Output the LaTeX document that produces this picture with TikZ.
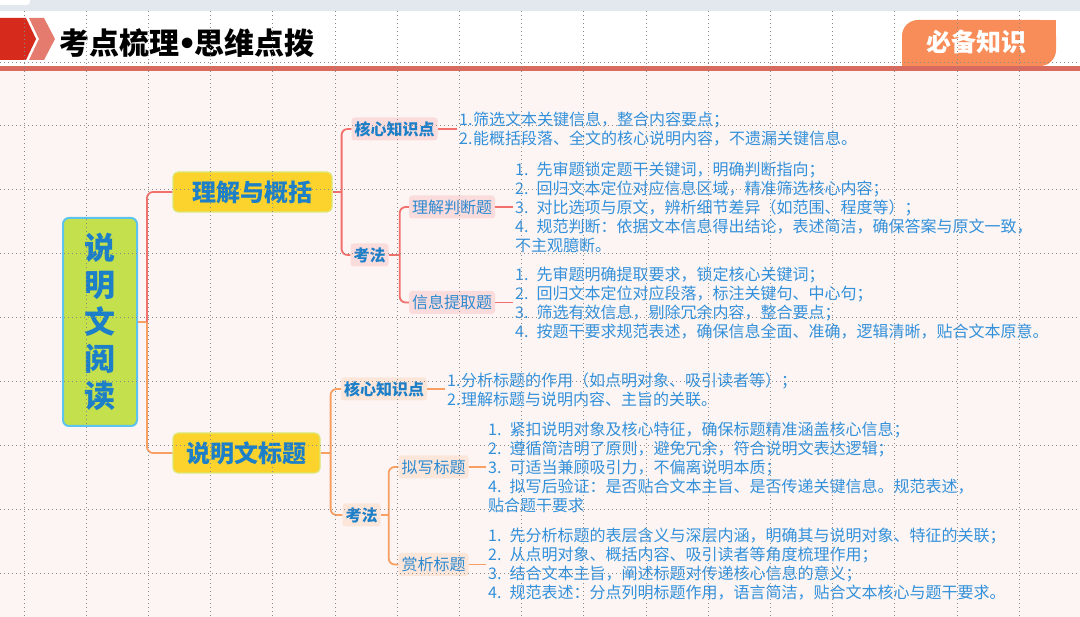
\documentclass[tikz,border=0pt]{standalone}
\usepackage{fontspec}
\setmainfont{Noto Sans CJK SC}
\newfontfamily\dotfont{DejaVu Sans}
\usepackage{xcolor}
\usepackage{tikz}

\definecolor{bgpink}{HTML}{FDF5F3}
\definecolor{topgrey}{HTML}{E3E8EE}
\definecolor{headred}{HTML}{D62A1C}
\definecolor{chevron}{HTML}{E47B6E}
\definecolor{headline}{HTML}{D96A5E}
\definecolor{badge}{HTML}{F98D59}
\definecolor{gridgrey}{HTML}{8A8A8A}
\definecolor{rootgreen}{HTML}{C4E04C}
\definecolor{rootedge}{HTML}{5EC4EE}
\definecolor{topicyel}{HTML}{FCD22D}
\definecolor{topicedge}{HTML}{DCE878}
\definecolor{inkblue}{HTML}{1C7FC8}
\definecolor{tagblue}{HTML}{2E8AD0}
\definecolor{listblue}{HTML}{3290DA}
\definecolor{upline}{HTML}{F2706C}
\definecolor{lowline}{HTML}{F8A064}
\definecolor{uptag}{HTML}{FBDCDC}
\definecolor{lowtag}{HTML}{FCE6DA}

\newcommand{\lnum}[2][21.5pt]{\makebox[#1][l]{#2}}

\tikzset{
  root/.style={draw=rootedge, line width=2pt, fill=rootgreen, rounded corners=6pt,
    text=inkblue, font=\fontsize{31}{37}\selectfont\bfseries, align=center,
    minimum width=74pt, minimum height=208pt, inner sep=0pt},
  topic/.style={draw=topicedge, line width=1.2pt, fill=topicyel, rounded corners=5pt,
    text=inkblue, font=\fontsize{24}{28}\selectfont\bfseries,
    minimum height=40pt, inner sep=0pt},
  tagup/.style={fill=uptag, rounded corners=3pt, text=tagblue,
    font=\fontsize{16}{18}\selectfont, minimum height=23pt, inner xsep=3pt, inner ysep=0pt},
  tagdown/.style={tagup, fill=lowtag},
  boldtag/.style={text=inkblue, font=\fontsize{16}{18}\selectfont\bfseries},
  items/.style={text=listblue, font=\fontsize{16}{19}\selectfont, align=left,
    anchor=west, inner xsep=2pt, inner ysep=0pt},
  upedge/.style={draw=upline, line width=1.8pt, rounded corners=6pt},
  lowedge/.style={draw=lowline, line width=1.8pt, rounded corners=6pt},
  gridline/.style={gridgrey, line width=0.9pt, dash pattern=on 0.9pt off 3.1pt}
}

\begin{document}
\begin{tikzpicture}[x=1pt, y=-1pt]
  \useasboundingbox (0,0) rectangle (1080,617);
  \fill[bgpink] (0,0) rectangle (1080,617);
  \fill[topgrey] (0,0) rectangle (1080,11);
  \fill[white, rounded corners=3pt] (-6,-4) rectangle (30,5);
  \fill[white] (0,11) rectangle (1080,66);
  \fill[headline] (0,66) rectangle (1080,71);
  \fill[headred] (0,18) -- (26,18) -- (36,39) -- (26,60) -- (0,60) -- cycle;
  \fill[chevron] (29,18) -- (44,18) -- (55,39) -- (44,60) -- (29,60) -- (39,39) -- cycle;
  \node[anchor=west, font=\fontsize{30}{32}\selectfont\bfseries] (title) at (56,43)
    {考点梳理\kern-2pt{\dotfont •}\kern-2pt 思维点拨};
  \fill[badge, rounded corners=16pt] (902,20) rectangle (1056,66);
  \fill[badge] (1010,20) rectangle (1056,40);
  \fill[badge] (902,46) rectangle (950,66);
  \node[text=white, font=\fontsize{25}{27}\selectfont\bfseries] (badgetext) at (976,42) {必备知识};

  \node[root] (root) at (100,322) {说\\明\\文\\阅\\读};
  \node[topic, minimum width=159pt] (zhuti) at (252.5,192) {理解与概括};
  \node[topic, minimum width=147pt] (biaoti) at (246.5,453) {说明文标题};

  \node[tagup, boldtag] (ucore) at (394.5,129) {核心知识点};
  \node[tagup, boldtag] (ukf) at (369.5,255) {考法};
  \node[tagup] (upd) at (452,207) {理解判断题};
  \node[tagup] (utq) at (452,302.5) {信息提取题};
  \node[tagdown, boldtag] (lcore) at (384,389) {核心知识点};
  \node[tagdown, boldtag] (lkf) at (361.5,515) {考法};
  \node[tagdown] (lnx) at (433.5,467) {拟写标题};
  \node[tagdown] (lsx) at (433.5,564.5) {赏析标题};

  \node[items] (ucorelist) at (457,129) {\lnum[14pt]{1.}筛选文本关键信息，整合内容要点；\\
    \lnum[14pt]{2.}能概括段落、全文的核心说明内容，不遗漏关键信息。};
  \node[items] (updlist) at (513,207) {\lnum{1.}先审题锁定题干关键词，明确判断指向；\\
    \lnum{2.}回归文本定位对应信息区域，精准筛选核心内容；\\
    \lnum{3.}对比选项与原文，辨析细节差异（如范围、程度等）；\\
    \lnum{4.}规范判断：依据文本信息得出结论，表述简洁，确保答案与原文一致，\\
    不主观臆断。};
  \node[items] (utqlist) at (513,303) {\lnum{1.}先审题明确提取要求，锁定核心关键词；\\
    \lnum{2.}回归文本定位对应段落，标注关键句、中心句；\\
    \lnum{3.}筛选有效信息，剔除冗余内容，整合要点；\\
    \lnum{4.}按题干要求规范表述，确保信息全面、准确，逻辑清晰，贴合文本原意。};
  \node[items] (lcorelist) at (445,390) {\lnum[14pt]{1.}分析标题的作用（如点明对象、吸引读者等）；\\
    \lnum[14pt]{2.}理解标题与说明内容、主旨的关联。};
  \node[items] (lnxlist) at (486,467) {\lnum{1.}紧扣说明对象及核心特征，确保标题精准涵盖核心信息；\\
    \lnum{2.}遵循简洁明了原则，避免冗余，符合说明文表达逻辑；\\
    \lnum{3.}可适当兼顾吸引力，不偏离说明本质；\\
    \lnum{4.}拟写后验证：是否贴合文本主旨、是否传递关键信息。规范表述，\\
    贴合题干要求};
  \node[items] (lsxlist) at (486,564) {\lnum{1.}先分析标题的表层含义与深层内涵，明确其与说明对象、特征的关联；\\
    \lnum{2.}从点明对象、概括内容、吸引读者等角度梳理作用；\\
    \lnum{3.}结合文本主旨，阐述标题对传递核心信息的意义；\\
    \lnum{4.}规范表述：分点列明标题作用，语言简洁，贴合文本核心与题干要求。};

  \draw[lowedge] (root.east) -- ++(9,0) coordinate (j0);
  \draw[upedge] (j0) |- (zhuti.west);
  \draw[lowedge] (j0) |- (biaoti.west);
  \draw[upedge] (zhuti.east) -- ++(9,0) coordinate (j1);
  \draw[upedge] (j1) |- (ucore.west);
  \draw[upedge] (j1) |- (ukf.west);
  \draw[upedge] (ukf.east) -- ++(11,0) coordinate (j2);
  \draw[upedge] (j2) |- (upd.west);
  \draw[upedge] (j2) |- (utq.west);
  \draw[upedge] (ucore.east) -- (ucore.east -| ucorelist.west);
  \draw[upedge] (upd.east) -- (upd.east -| updlist.west);
  \draw[upedge] (utq.east) -- (utq.east -| utqlist.west);
  \draw[lowedge] (biaoti.east) -- ++(10,0) coordinate (j3);
  \draw[lowedge] (j3) |- (lcore.west);
  \draw[lowedge] (j3) |- (lkf.west);
  \draw[lowedge] (lkf.east) -- ++(8,0) coordinate (j4);
  \draw[lowedge] (j4) |- (lnx.west);
  \draw[lowedge] (j4) |- (lsx.west);
  \draw[lowedge] (lcore.east) -- (lcore.east -| lcorelist.west);
  \draw[lowedge] (lnx.east) -- (lnx.east -| lnxlist.west);
  \draw[lowedge] (lsx.east) -- (lsx.east -| lsxlist.west);

  \foreach \gx in {0,...,17}
    \draw[gridline] ({24+62.2*\gx},11) -- ++(0,606);
  \foreach \gy in {0,...,8}
    \draw[gridline] (0,{62+63.9*\gy}) -- ++(1080,0);
\end{tikzpicture}
\end{document}
